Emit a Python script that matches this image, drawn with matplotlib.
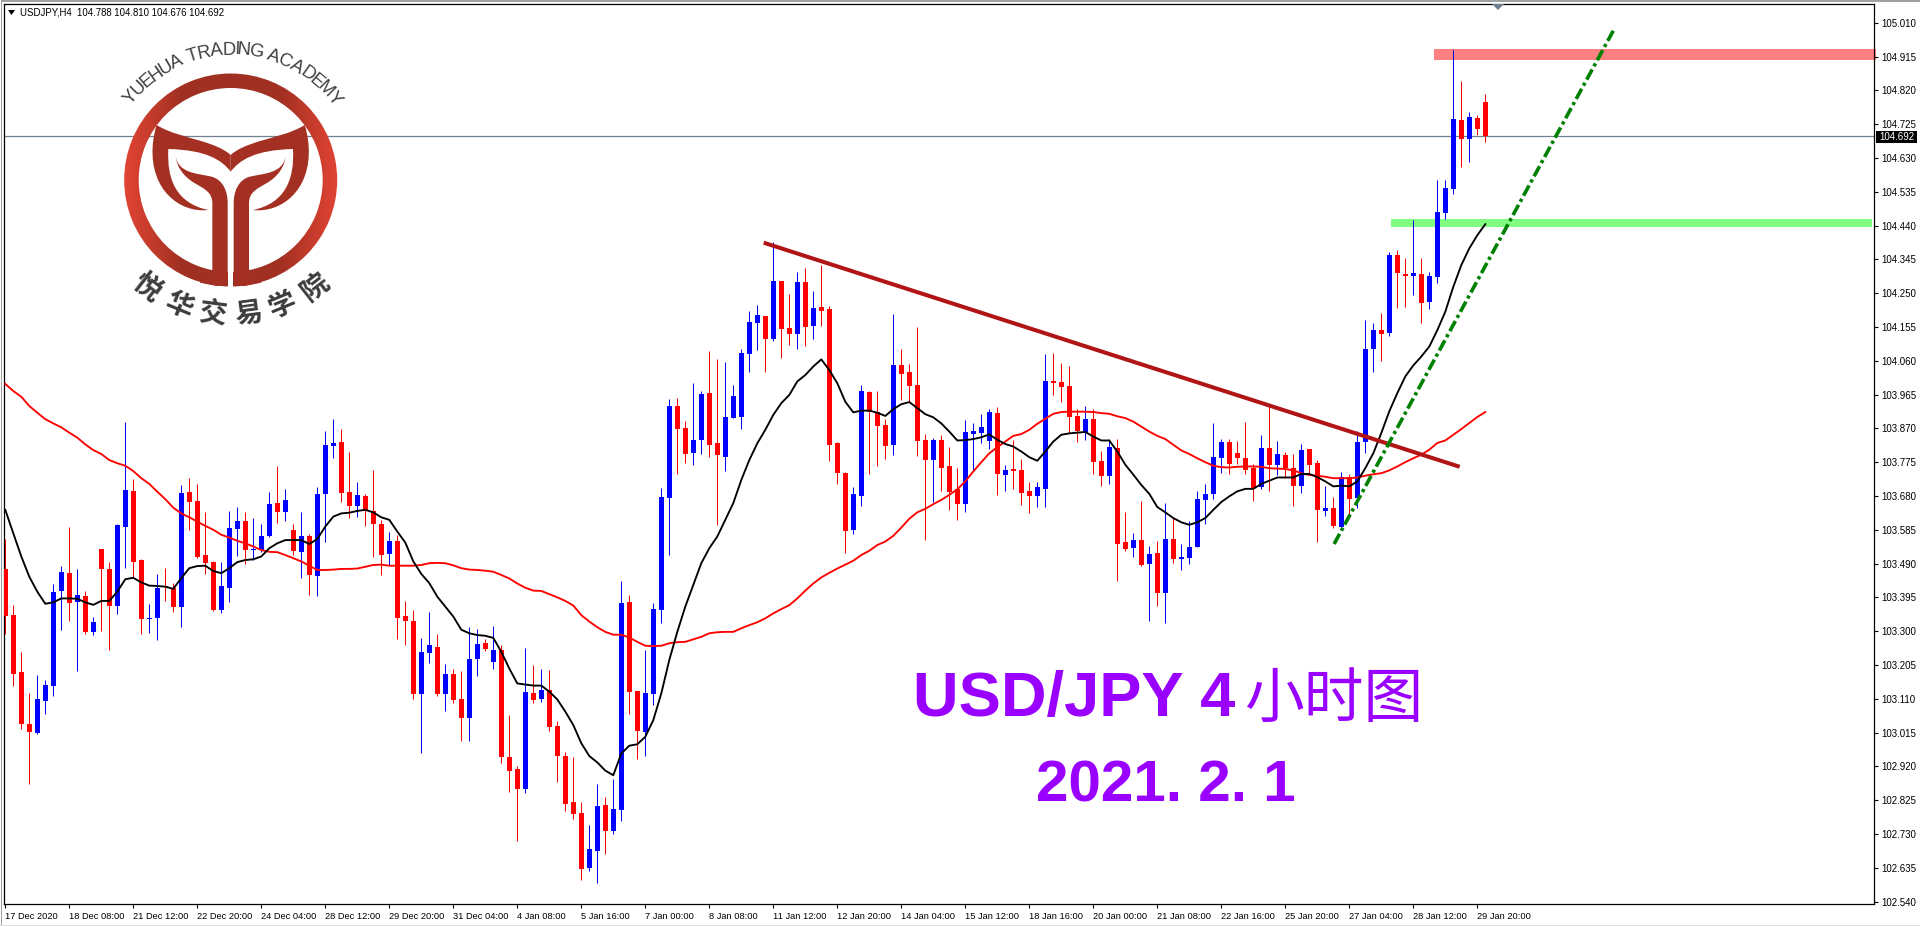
import matplotlib
matplotlib.use("Agg")
import numpy as np
import matplotlib.pyplot as plt
from matplotlib.patches import Wedge, Polygon, PathPatch, Rectangle
from matplotlib.path import Path
from matplotlib.textpath import TextPath
from matplotlib.font_manager import FontProperties

opens = [
103.475,103.346,103.185,103.039,103.014,103.104,103.146,103.413,103.464,103.382,
103.399,103.298,103.531,103.475,103.371,103.593,103.694,103.500,103.334,103.337,
103.427,103.422,103.368,103.691,103.666,103.514,103.495,103.360,103.422,103.587,
103.610,103.528,103.528,103.568,103.660,103.635,103.585,103.523,103.568,103.455,
103.686,103.821,103.832,103.691,103.652,103.680,103.638,103.601,103.517,103.554,
103.343,103.329,103.124,103.239,103.256,103.124,103.180,103.110,103.056,103.222,
103.267,103.214,103.247,102.946,102.912,102.856,103.126,103.109,103.134,103.033,
102.949,102.820,102.789,102.634,102.682,102.811,102.738,102.797,103.382,103.132,
103.016,103.123,103.360,103.675,103.933,103.871,103.801,103.838,103.970,103.829,
103.790,103.899,103.902,104.079,104.167,104.186,104.122,104.285,104.152,104.136,
104.282,104.158,104.211,104.206,103.829,103.745,103.585,103.680,103.973,103.916,
103.880,103.824,104.048,104.029,103.992,103.838,103.781,103.838,103.765,103.700,
103.658,103.854,103.857,103.835,103.914,103.739,103.756,103.753,103.694,103.680,
103.700,104.003,104.001,103.989,103.905,103.860,103.897,103.779,103.736,103.815,
103.551,103.534,103.557,103.489,103.520,103.408,103.560,103.503,103.506,103.537,
103.669,103.686,103.787,103.832,103.801,103.787,103.759,103.706,103.815,103.768,
103.796,103.759,103.709,103.813,103.773,103.638,103.647,103.593,103.734,103.675,
103.832,104.093,104.146,104.138,104.357,104.304,104.298,104.304,104.225,104.295,
104.475,104.543,104.737,104.683,104.742,104.788]
closes = [
103.343,103.180,103.039,103.017,103.110,103.149,103.410,103.467,103.379,103.402,
103.298,103.326,103.475,103.371,103.599,103.697,103.495,103.334,103.337,103.422,
103.424,103.368,103.689,103.663,103.509,103.492,103.360,103.427,103.590,103.610,
103.528,103.531,103.568,103.658,103.635,103.669,103.525,103.568,103.458,103.686,
103.823,103.829,103.689,103.652,103.683,103.638,103.601,103.514,103.554,103.337,
103.329,103.124,103.242,103.261,103.124,103.180,103.107,103.056,103.222,103.264,
103.250,103.247,102.946,102.907,102.856,103.129,103.106,103.134,103.030,102.949,
102.814,102.786,102.631,102.688,102.808,102.738,102.800,103.379,103.129,103.019,
103.126,103.362,103.677,103.933,103.869,103.798,103.838,103.967,103.824,103.795,
103.902,103.961,104.082,104.169,104.189,104.122,104.285,104.150,104.136,104.282,
104.155,104.209,104.200,103.824,103.745,103.582,103.686,103.975,103.916,103.877,
103.821,104.048,104.023,103.989,103.835,103.781,103.838,103.759,103.691,103.658,
103.860,103.863,103.874,103.916,103.742,103.753,103.750,103.689,103.680,103.706,
104.003,103.998,103.987,103.902,103.863,103.897,103.776,103.736,103.818,103.546,
103.532,103.557,103.487,103.517,103.408,103.560,103.503,103.509,103.537,103.672,
103.686,103.790,103.832,103.770,103.787,103.754,103.703,103.815,103.768,103.799,
103.759,103.709,103.810,103.768,103.641,103.647,103.596,103.734,103.672,103.832,
104.093,104.146,104.135,104.357,104.307,104.298,104.307,104.222,104.298,104.478,
104.546,104.740,104.683,104.745,104.711,104.692]
highs = [
103.558,103.374,103.240,103.126,103.177,103.163,103.433,103.483,103.593,103.475,
103.413,103.340,103.531,103.495,103.601,103.888,103.728,103.503,103.377,103.461,
103.478,103.436,103.711,103.731,103.714,103.635,103.497,103.495,103.638,103.649,
103.635,103.618,103.601,103.691,103.764,103.700,103.601,103.635,103.573,103.705,
103.863,103.897,103.868,103.804,103.720,103.686,103.753,103.613,103.579,103.571,
103.385,103.360,103.281,103.354,103.292,103.208,103.194,103.188,103.312,103.306,
103.278,103.315,103.261,103.064,102.921,103.253,103.205,103.194,103.191,103.047,
102.960,102.946,102.820,102.755,102.870,102.834,102.884,103.441,103.402,103.132,
103.247,103.379,103.703,103.953,103.956,103.891,103.998,103.975,104.088,104.065,
104.057,103.992,104.093,104.200,104.217,104.186,104.394,104.285,104.248,104.310,
104.321,104.256,104.330,104.214,103.832,103.748,103.706,103.992,103.975,103.975,
103.897,104.192,104.093,104.051,104.155,103.854,103.843,103.852,103.818,103.759,
103.894,103.885,103.911,103.925,103.930,103.767,103.838,103.784,103.720,103.720,
104.079,104.082,104.054,104.046,103.925,103.933,103.925,103.807,103.840,103.841,
103.636,103.577,103.666,103.540,103.554,103.661,103.619,103.546,103.610,103.695,
103.714,103.886,103.841,103.841,103.835,103.889,103.770,103.852,103.934,103.835,
103.804,103.799,103.827,103.813,103.782,103.709,103.678,103.748,103.742,103.863,
104.175,104.166,104.194,104.366,104.371,104.349,104.456,104.349,104.309,104.568,
104.568,104.933,104.846,104.759,104.751,104.810]
lows = [
103.292,103.146,103.025,102.871,103.011,103.067,103.118,103.304,103.329,103.188,
103.292,103.289,103.301,103.247,103.348,103.478,103.450,103.292,103.295,103.275,
103.385,103.354,103.312,103.585,103.506,103.461,103.357,103.351,103.382,103.512,
103.489,103.500,103.523,103.565,103.604,103.610,103.514,103.450,103.402,103.399,
103.551,103.787,103.663,103.618,103.621,103.596,103.509,103.458,103.486,103.278,
103.261,103.110,102.958,103.211,103.118,103.076,103.098,102.991,102.991,103.174,
103.244,103.194,102.929,102.848,102.710,102.845,103.098,103.101,103.019,102.876,
102.794,102.772,102.600,102.626,102.592,102.674,102.730,102.766,103.067,102.940,
102.949,103.092,103.323,103.514,103.742,103.773,103.767,103.798,103.790,103.599,
103.750,103.899,103.869,104.029,104.091,104.029,104.116,104.068,104.105,104.093,
104.102,104.122,104.158,103.779,103.714,103.520,103.573,103.652,103.742,103.765,
103.784,103.795,103.950,103.944,103.793,103.556,103.663,103.694,103.641,103.613,
103.635,103.750,103.829,103.812,103.683,103.694,103.700,103.655,103.632,103.649,
103.649,103.964,103.944,103.857,103.832,103.838,103.742,103.708,103.714,103.442,
103.526,103.509,103.484,103.329,103.371,103.324,103.492,103.473,103.489,103.537,
103.602,103.672,103.745,103.742,103.770,103.742,103.666,103.700,103.695,103.740,
103.731,103.652,103.689,103.742,103.551,103.624,103.591,103.585,103.627,103.647,
103.801,104.028,104.059,104.130,104.208,104.211,104.245,104.166,104.205,104.279,
104.458,104.529,104.605,104.619,104.695,104.676]
ma_black = [
103.641,103.575,103.510,103.453,103.411,103.377,103.381,103.392,103.392,103.391,
103.381,103.374,103.385,103.385,103.411,103.446,103.450,103.437,103.428,103.427,
103.425,103.419,103.449,103.477,103.483,103.484,103.469,103.463,103.477,103.494,
103.500,103.502,103.510,103.533,103.547,103.556,103.556,103.556,103.545,103.559,
103.594,103.622,103.631,103.633,103.638,103.641,103.634,103.620,103.613,103.580,
103.549,103.496,103.461,103.435,103.397,103.369,103.341,103.304,103.294,103.289,
103.287,103.281,103.242,103.195,103.153,103.150,103.147,103.147,103.130,103.108,
103.074,103.036,102.985,102.949,102.931,102.908,102.895,102.956,102.978,102.982,
103.003,103.050,103.125,103.219,103.298,103.369,103.430,103.491,103.533,103.566,
103.613,103.660,103.725,103.781,103.828,103.866,103.908,103.941,103.964,104.002,
104.020,104.044,104.064,104.034,103.997,103.945,103.915,103.920,103.920,103.914,
103.905,103.924,103.938,103.944,103.927,103.910,103.901,103.884,103.861,103.836,
103.837,103.840,103.845,103.853,103.838,103.826,103.819,103.805,103.789,103.779,
103.805,103.833,103.852,103.856,103.858,103.860,103.847,103.836,103.836,103.805,
103.768,103.740,103.711,103.686,103.649,103.634,103.618,103.606,103.599,103.606,
103.618,103.641,103.663,103.679,103.693,103.700,103.700,103.714,103.723,103.732,
103.732,103.732,103.742,103.742,103.733,103.721,103.707,103.709,103.707,103.721,
103.758,103.800,103.857,103.918,103.969,104.016,104.047,104.072,104.100,104.146,
104.198,104.268,104.329,104.376,104.413,104.444]
ma_red = [
103.995,103.975,103.959,103.933,103.914,103.896,103.884,103.873,103.858,103.844,
103.825,103.809,103.798,103.781,103.772,103.765,103.750,103.730,103.714,103.692,
103.671,103.647,103.631,103.620,103.608,103.596,103.585,103.571,103.563,103.554,
103.547,103.538,103.528,103.523,103.522,103.514,103.505,103.496,103.484,103.472,
103.472,103.473,103.475,103.475,103.476,103.481,103.486,103.487,103.484,103.484,
103.484,103.484,103.486,103.491,103.492,103.491,103.485,103.477,103.473,103.472,
103.470,103.467,103.458,103.448,103.434,103.422,103.414,103.413,103.404,103.395,
103.385,103.372,103.345,103.327,103.311,103.298,103.290,103.290,103.282,103.270,
103.259,103.258,103.259,103.266,103.269,103.270,103.277,103.284,103.294,103.297,
103.298,103.298,103.308,103.317,103.325,103.336,103.350,103.362,103.373,103.392,
103.414,103.434,103.451,103.464,103.476,103.487,103.498,103.514,103.526,103.542,
103.552,103.568,103.591,103.616,103.634,103.644,103.657,103.669,103.683,103.699,
103.721,103.749,103.775,103.800,103.817,103.833,103.849,103.854,103.866,103.883,
103.897,103.911,103.916,103.917,103.917,103.917,103.916,103.913,103.911,103.904,
103.899,103.889,103.875,103.861,103.849,103.840,103.824,103.808,103.798,103.786,
103.775,103.765,103.761,103.760,103.762,103.763,103.763,103.762,103.758,103.757,
103.756,103.752,103.744,103.739,103.737,103.734,103.730,103.730,103.730,103.732,
103.737,103.741,103.744,103.752,103.763,103.775,103.786,103.796,103.810,103.829,
103.836,103.852,103.868,103.885,103.902,103.916]
price_ticks = [105.010,104.915,104.820,104.725,104.630,104.535,104.440,104.345,104.250,104.155,
104.060,103.965,103.870,103.775,103.680,103.585,103.490,103.395,103.300,103.205,
103.110,103.015,102.920,102.825,102.730,102.635,102.540]
time_labels = ["17 Dec 2020","18 Dec 08:00","21 Dec 12:00","22 Dec 20:00","24 Dec 04:00","28 Dec 12:00",
"29 Dec 20:00","31 Dec 04:00","4 Jan 08:00","5 Jan 16:00","7 Jan 00:00","8 Jan 08:00","11 Jan 12:00",
"12 Jan 20:00","14 Jan 04:00","15 Jan 12:00","18 Jan 16:00","20 Jan 00:00","21 Jan 08:00","22 Jan 16:00",
"25 Jan 20:00","27 Jan 04:00","28 Jan 12:00","29 Jan 20:00"]
last_price = 104.692
header = "USDJPY,H4  104.788 104.810 104.676 104.692"
res_band = (178.6, 233.8, 104.906, 104.937)
sup_band = (173.2, 233.3, 104.436, 104.459)
down_trend = ([94.8, 181.8], [104.392, 103.762])
up_trend = ([166.1, 201.0], [103.545, 104.988])

W, H = 1920, 927
fig = plt.figure(figsize=(W/100, H/100), dpi=100, facecolor="white")
L, R, T, B = 4.0, 1873.7, 4.0, 904.0
ax = fig.add_axes([L/W, 1-B/H, (R-L)/W, (B-T)/H])
ax.set_xlim((L-5.3)/8, (R-5.3)/8)
ax.set_ylim(102.533, 105.063)
o, c, h, l = map(np.array, (opens, closes, highs, lows))
x = np.arange(len(o))
cols = np.where(c > o, "#0000FF", "#FF0000")
ax.add_patch(Rectangle((res_band[0], res_band[2]), res_band[1]-res_band[0], res_band[3]-res_band[2],
                       fc="#FF8080", ec="none", zorder=1, clip_on=False))
ax.add_patch(Rectangle((sup_band[0], sup_band[2]), sup_band[1]-sup_band[0], sup_band[3]-sup_band[2],
                       fc="#80FF80", ec="none", zorder=1, clip_on=False))
ax.axhline(last_price, color="#708090", lw=0.9, zorder=1.5)
ax.vlines(x, l, h, colors=cols, lw=0.72, zorder=2)
ax.bar(x, np.maximum(np.abs(c-o), 0.003), bottom=np.minimum(o, c), width=5.0/8, color=cols, zorder=3)
ax.plot(x, ma_red, color="#FF0000", lw=1.35, zorder=4)
ax.plot(x, ma_black, color="#000000", lw=1.35, zorder=5)
ax.plot(*down_trend, color="#B01414", lw=2.9, zorder=6, solid_capstyle="butt")
ax.plot(*up_trend, color="#008000", lw=2.6, ls=(0, (3.2, 1.0, 0.9, 1.0)), zorder=6)

sans = "Liberation Sans"
ax.yaxis.tick_right()
ax.set_yticks(price_ticks)
ax.set_yticklabels([f"{p:.3f}" for p in price_ticks], family=sans, fontsize=7, color="black")
ax.tick_params(axis="y", length=3, width=0.8, pad=2.5)
ax.set_xticks(np.arange(len(time_labels))*8)
ax.set_xticklabels(time_labels, family=sans, fontsize=6.7, ha="left", color="black")
ax.tick_params(axis="x", length=3, width=0.8, pad=2.5)
for s in ax.spines.values():
    s.set_linewidth(0.9)

# overlay in pixel coordinates for non-data decoration
ov = fig.add_axes([0, 0, 1, 1], facecolor="none")
ov.set_xlim(0, W); ov.set_ylim(H, 0); ov.axis("off")
ov.add_patch(Rectangle((1, 0), W, 2, fc="#A0A0A0", ec="none"))
ov.add_patch(Rectangle((1, 0), 1.3, 925, fc="#A0A0A0", ec="none"))
ov.add_patch(Rectangle((0, 924.5), W, 1.3, fc="#E0E0E0", ec="none"))
ov.add_patch(Polygon([(1492, 4), (1504, 4), (1498, 10)], fc="#708090", ec="none"))
ov.add_patch(Polygon([(8, 10), (15, 10), (11.5, 15)], fc="black", ec="none"))
ov.text(20, 12.5, header, family=sans, fontsize=6.9, va="center", ha="left", color="black")
ov.add_patch(Rectangle((1875.5, 131), 41, 11.5, fc="black", ec="none"))
ov.text(1879.5, 136.5, f"{last_price:.3f}", family=sans, fontsize=7, color="white", va="center", ha="left")

# logo
CX, CY = 230.7, 180.0
grad = np.linspace(0, 1, 256)
grad = np.abs(grad-0.5)*2
grad = np.clip((grad-0.45)/0.55, 0, 1)
rgb = np.zeros((1, 256, 3))
rgb[0, :, 0] = (0xA0+(0xE2-0xA0)*grad)/255
rgb[0, :, 1] = (0x30+(0x44-0x30)*grad)/255
rgb[0, :, 2] = (0x22+(0x34-0x22)*grad)/255
im = ov.imshow(rgb, extent=(CX-107, CX+107, CY+107, CY-107), aspect="auto", zorder=7)
ring = Wedge((CX, CY), 106.5, 0, 360, width=14.5, transform=ov.transData, fc="none", ec="none")
ov.add_patch(ring)
im.set_clip_path(ring)
ov.set_xlim(0, W); ov.set_ylim(H, 0)

def mirror(pts):
    return [(2*692-px, py) for px, py in pts]

M, C4, CL = Path.MOVETO, Path.CURVE4, Path.CLOSEPOLY
LN = Path.LINETO
def shape(verts, codes, **kw):
    v = [(px/3, py/3) for px, py in verts]
    ov.add_patch(PathPatch(Path(v, codes), fc="#A33022", ec="none", zorder=8, **kw))

crown = [(470,375),(510,400),(560,410),(610,425),(640,435),(670,445),(692,465),
         (692,515),(665,480),(620,450),(505,447),(505,447),(500,540),(530,610),(625,630),
         (540,640),(450,570),(458,440),(460,410),(465,390),(470,375),(470,375)]
crown_codes = [M,C4,C4,C4,C4,C4,C4,LN,C4,C4,C4,LN,C4,C4,C4,C4,C4,C4,C4,C4,C4,CL]
shape(crown, crown_codes)
shape(mirror(crown), crown_codes)
stem = [(527,468),(535,520),(590,520),(635,530),(670,540),(683,575),(683,610),(683,830),
        (683,845),(670,858),(650,858),(600,848),(600,845),(637,810),(637,610),(637,575),(610,565),(585,550),
        (550,530),(530,500),(527,468),(527,468)]
stem_codes = [M,C4,C4,C4,C4,C4,C4,LN,C4,C4,C4,LN,LN,LN,LN,C4,C4,C4,C4,C4,C4,CL]
shape(stem, stem_codes)
shape(mirror(stem), stem_codes)
ov.add_patch(Rectangle((683/3, 800/3), 17/3, 62/3, fc="white", ec="none", zorder=7.5))

fp = FontProperties(family=sans)
txt = "YUEHUA TRADING ACADEMY"
size = 18.5
adv = []
for ch in txt:
    adv.append(size*0.28 if ch == " " else TextPath((0, 0), ch, size=size, prop=fp).get_extents().width + size*0.07)
adv = np.array(adv)
centers = np.cumsum(adv) - adv/2
span = np.radians(107)
angs = (centers/adv.sum() - 0.5)*span + np.radians(0.5)
RT = 131.0
for ch, a in zip(txt, angs):
    ov.text(CX+1+RT*np.sin(a), CY+1-RT*np.cos(a), ch, family=sans, fontsize=size*0.72,
            color="#404040", rotation=-np.degrees(a), rotation_mode="anchor", ha="center", va="center", zorder=9)
cn = "悦华交易学院"
RC = 136.0
for ch, deg in zip(cn, [38, 22.5, 7.5, -7.5, -22.5, -38]):
    a = np.radians(deg)
    ov.text(CX-RC*np.sin(a), CY+RC*np.cos(a), ch, family="Noto Sans CJK SC", fontweight="bold", fontsize=20,
            color="#3C3C3C", rotation=-deg, rotation_mode="anchor", ha="center", va="center", zorder=9)

# big caption
PUR = "#9900FF"
ov.text(913, 716, "USD/JPY 4", family=sans, fontweight="bold", fontsize=45.5, color=PUR, va="baseline", ha="left")
ov.text(1244, 717, "小时图", family="Noto Sans CJK SC", fontsize=43, color=PUR, va="baseline", ha="left")
ov.text(1166, 801, "2021. 2. 1", family=sans, fontweight="bold", fontsize=42, color=PUR, va="baseline", ha="center")

fig.savefig("out.png", dpi=100, facecolor="white")
